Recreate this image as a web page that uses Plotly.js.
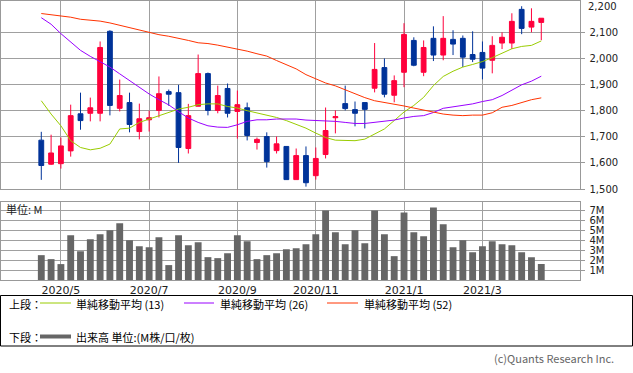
<!DOCTYPE html>
<html>
<head>
<meta charset="utf-8">
<script src="https://cdn.plot.ly/plotly-3.0.1.min.js"></script>
<style>html,body{margin:0;padding:0;background:#fff;}#chart{width:633px;height:373px;}</style>
</head>
<body>
<div id="chart"></div>
<script>
// weekly candles (week starting Monday)
const weeks = ['2020-04-20','2020-04-27','2020-05-04','2020-05-11','2020-05-18','2020-05-25','2020-06-01','2020-06-08','2020-06-15','2020-06-22','2020-06-29','2020-07-06','2020-07-13','2020-07-20','2020-07-27','2020-08-03','2020-08-10','2020-08-17','2020-08-24','2020-08-31','2020-09-07','2020-09-14','2020-09-21','2020-09-28','2020-10-05','2020-10-12','2020-10-19','2020-10-26','2020-11-02','2020-11-09','2020-11-16','2020-11-23','2020-11-30','2020-12-07','2020-12-14','2020-12-21','2020-12-28','2021-01-04','2021-01-11','2021-01-18','2021-01-25','2021-02-01','2021-02-08','2021-02-15','2021-02-22','2021-03-01','2021-03-08','2021-03-15','2021-03-22','2021-03-29','2021-04-05','2021-04-12'];
const openP  = [1687,1595,1597,1646,1788,1790,1790,2104,1809,1831,1720,1765,1801,1873,1869,1655,1817,1942,1801,1885,1797,1811,1678,1701,1647,1663,1536,1628,1551,1632,1773,1827,1804,1831,1886,1965,1859,1947,2069,1947,2077,2013,2073,2077,2015,2023,1993,2059,2059,2188,2120,2138];
const highP  = [1719,1708,1697,1823,1869,1850,2065,2108,1919,1869,1827,1800,1931,1881,1899,1826,2015,1946,1896,1904,1877,1831,1697,1717,1701,1663,1655,1663,1659,1812,1801,1896,1835,1831,2059,2000,1935,2135,2081,2069,2123,2162,2108,2088,2104,2065,2085,2100,2173,2200,2192,2154];
const lowP   = [1535,1592,1578,1624,1727,1759,1759,1782,1797,1717,1690,1720,1774,1819,1600,1636,1817,1782,1790,1774,1693,1686,1651,1582,1636,1536,1536,1509,1536,1617,1713,1801,1740,1732,1870,1851,1832,1890,1970,1932,1990,1993,2013,1967,1986,1920,1943,2036,2036,2093,2100,2070];
const closeP = [1590,1638,1665,1781,1762,1811,2042,1820,1858,1747,1769,1773,1865,1863,1659,1781,1942,1801,1858,1790,1823,1705,1690,1605,1673,1536,1628,1524,1617,1724,1777,1808,1790,1805,1958,1863,1915,2092,1974,2042,2013,2077,2055,2005,1997,1963,2050,2081,2142,2115,2142,2154];
const sma13 = [1838,1787,1742,1685,1659,1650,1656,1672,1730,1733,1755,1768,1783,1796,1806,1813,1823,1826,1826,1816,1810,1800,1791,1781,1774,1762,1749,1733,1714,1697,1687,1685,1685,1691,1710,1730,1762,1795,1820,1851,1896,1931,1951,1967,1977,1988,2003,2020,2037,2046,2050,2067];
const sma26 = [2156,2131,2095,2063,2031,2008,1988,1967,1941,1915,1887,1864,1842,1822,1796,1772,1755,1742,1737,1736,1746,1759,1765,1765,1768,1768,1768,1764,1762,1762,1759,1755,1751,1751,1755,1759,1764,1772,1778,1781,1793,1809,1815,1822,1826,1835,1842,1858,1880,1899,1913,1932];
const sma52 = [2172,2168,2164,2158,2150,2146,2143,2136,2127,2117,2108,2099,2091,2085,2078,2069,2060,2057,2051,2043,2037,2028,2018,2009,1992,1976,1960,1938,1922,1906,1895,1880,1864,1850,1838,1832,1826,1818,1810,1803,1795,1787,1783,1781,1783,1783,1792,1813,1820,1832,1842,1849];
const volumeM = [2.5,2.1,1.6,4.5,2.9,4.1,4.6,5.0,5.7,4.0,3.4,3.3,4.3,1.5,4.5,3.5,3.8,2.3,2.2,2.7,4.5,3.9,2.1,2.5,2.7,3.1,3.2,3.6,4.6,7.0,4.8,3.6,5.0,3.7,7.0,4.6,2.4,6.8,4.8,4.4,7.3,5.6,3.3,4.0,2.8,3.4,3.9,3.6,3.5,2.8,2.3,1.6];
const tickWeeks = ['2020-05-04','2020-07-06','2020-09-07','2020-11-02','2021-01-04','2021-03-01'];
const tickLabels = ['2020/5','2020/7','2020/9','2020/11','2021/1','2021/3'];
const priceTicks = [1500,1600,1700,1800,1900,2000,2100];
const volTicks = [1,2,3,4,5,6,7];
const volTickLabels = ['1M','2M','3M','4M','5M','6M','7M'];

const W = 633, H = 373;
const px = v => v / W;
const py = v => 1 - v / H;
const GRID = '#a0a0a0';
const CJK = 'Noto Sans CJK JP, Noto Sans, sans-serif';
const NUM = 'DejaVu Sans, sans-serif';

const traces = [
  {type:'candlestick', x:weeks, open:openP, high:highP, low:lowP, close:closeP,
   xaxis:'x', yaxis:'y', whiskerwidth:0,
   increasing:{line:{color:'#ff003c', width:1}, fillcolor:'#ff003c'},
   decreasing:{line:{color:'#003399', width:1}, fillcolor:'#003399'},
   hoverinfo:'skip'},
  {type:'scatter', mode:'lines', x:weeks, y:sma13, xaxis:'x', yaxis:'y', line:{color:'#99cc00', width:1}, name:'単純移動平均 (13)'},
  {type:'scatter', mode:'lines', x:weeks, y:sma26, xaxis:'x', yaxis:'y', line:{color:'#9900ff', width:1}, name:'単純移動平均 (26)'},
  {type:'scatter', mode:'lines', x:weeks, y:sma52, xaxis:'x', yaxis:'y', line:{color:'#ff3300', width:1}, name:'単純移動平均 (52)'},
  {type:'bar', x:weeks, y:volumeM, xaxis:'x2', yaxis:'y2', marker:{color:'#666666'}, name:'出来高'}
];

const xr = [-4.11, 54.9];
const xdom = [px(1), px(579.5)];
const baseX = {type:'category', domain:xdom, range:xr, tickvals:tickWeeks, ticktext:tickLabels,
  showgrid:true, gridcolor:GRID, gridwidth:1, showline:true, mirror:true, linecolor:'#999', linewidth:1,
  ticks:'', fixedrange:true, zeroline:false};

const layout = {
  width:W, height:H, margin:{l:0,r:0,t:0,b:0}, paper_bgcolor:'#fff', plot_bgcolor:'#fff',
  showlegend:false, bargap:0.3, boxgap:0.3,
  xaxis: Object.assign({}, baseX, {anchor:'y', showticklabels:false, rangeslider:{visible:false}}),
  yaxis: {domain:[py(189), py(1)], range:[1500,2220], side:'right', anchor:'x', tickvals:priceTicks,
    tickformat:',', showgrid:true, gridcolor:GRID, showline:true, mirror:true, linecolor:'#999', linewidth:1,
    ticks:'outside', ticklen:4, tickcolor:'#999', tickfont:{family:NUM, size:10, color:'#222'},
    zeroline:false, fixedrange:true, ticklabelstandoff:3},
  xaxis2: Object.assign({}, baseX, {anchor:'y2', showticklabels:true, tickfont:{family:NUM, size:11, color:'#222'}}),
  yaxis2: {domain:[py(280), py(202)], range:[0,7.85], side:'right', anchor:'x2', tickvals:volTicks,
    ticktext:volTickLabels, showgrid:true, gridcolor:GRID, showline:true, mirror:true, linecolor:'#999', linewidth:1,
    ticks:'outside', ticklen:4, tickcolor:'#999', tickfont:{family:NUM, size:10, color:'#222'},
    zeroline:false, fixedrange:true, ticklabelstandoff:3},
  shapes: [
    {type:'rect', xref:'paper', yref:'paper', x0:px(0.5), x1:px(632.5), y0:py(346), y1:py(295.5), line:{color:'#000', width:1}},
    {type:'line', xref:'paper', yref:'paper', x0:px(40), x1:px(71), y0:py(303), y1:py(303), line:{color:'#99cc00', width:1}},
    {type:'line', xref:'paper', yref:'paper', x0:px(184), x1:px(214), y0:py(303), y1:py(303), line:{color:'#9900ff', width:1}},
    {type:'line', xref:'paper', yref:'paper', x0:px(327), x1:px(358), y0:py(303), y1:py(303), line:{color:'#ff3300', width:1}},
    {type:'line', xref:'paper', yref:'paper', x0:px(40), x1:px(71), y0:py(336.5), y1:py(336.5), line:{color:'#666666', width:4}}
  ],
  annotations: [
    {xref:'paper', yref:'y', x:px(586), y:2200, text:'2,200', showarrow:false, xanchor:'left', yanchor:'middle', font:{family:NUM, size:10, color:'#222'}},
    {xref:'paper', yref:'paper', x:px(4), y:py(209), text:'単位: M', showarrow:false, xanchor:'left', yanchor:'middle', font:{family:CJK, size:11, color:'#222'}},
    {xref:'paper', yref:'paper', x:px(7), y:py(304), text:'上段：', showarrow:false, xanchor:'left', yanchor:'middle', font:{family:CJK, size:11, color:'#000'}},
    {xref:'paper', yref:'paper', x:px(74), y:py(304), text:'単純移動平均 (13)', showarrow:false, xanchor:'left', yanchor:'middle', font:{family:CJK, size:11, color:'#000'}},
    {xref:'paper', yref:'paper', x:px(218), y:py(304), text:'単純移動平均 (26)', showarrow:false, xanchor:'left', yanchor:'middle', font:{family:CJK, size:11, color:'#000'}},
    {xref:'paper', yref:'paper', x:px(362), y:py(304), text:'単純移動平均 (52)', showarrow:false, xanchor:'left', yanchor:'middle', font:{family:CJK, size:11, color:'#000'}},
    {xref:'paper', yref:'paper', x:px(7), y:py(336.5), text:'下段：', showarrow:false, xanchor:'left', yanchor:'middle', font:{family:CJK, size:11, color:'#000'}},
    {xref:'paper', yref:'paper', x:px(74), y:py(336.5), text:'出来高 単位:(M株/口/枚)', showarrow:false, xanchor:'left', yanchor:'middle', font:{family:CJK, size:11, color:'#000'}},
    {xref:'paper', yref:'paper', x:px(616), y:py(358), text:'(c)Quants Research Inc.', showarrow:false, xanchor:'right', yanchor:'middle', font:{family:CJK, size:11, color:'#666'}}
  ]
};

Plotly.newPlot('chart', traces, layout, {displayModeBar:false, staticPlot:true});
</script>
</body>
</html>
